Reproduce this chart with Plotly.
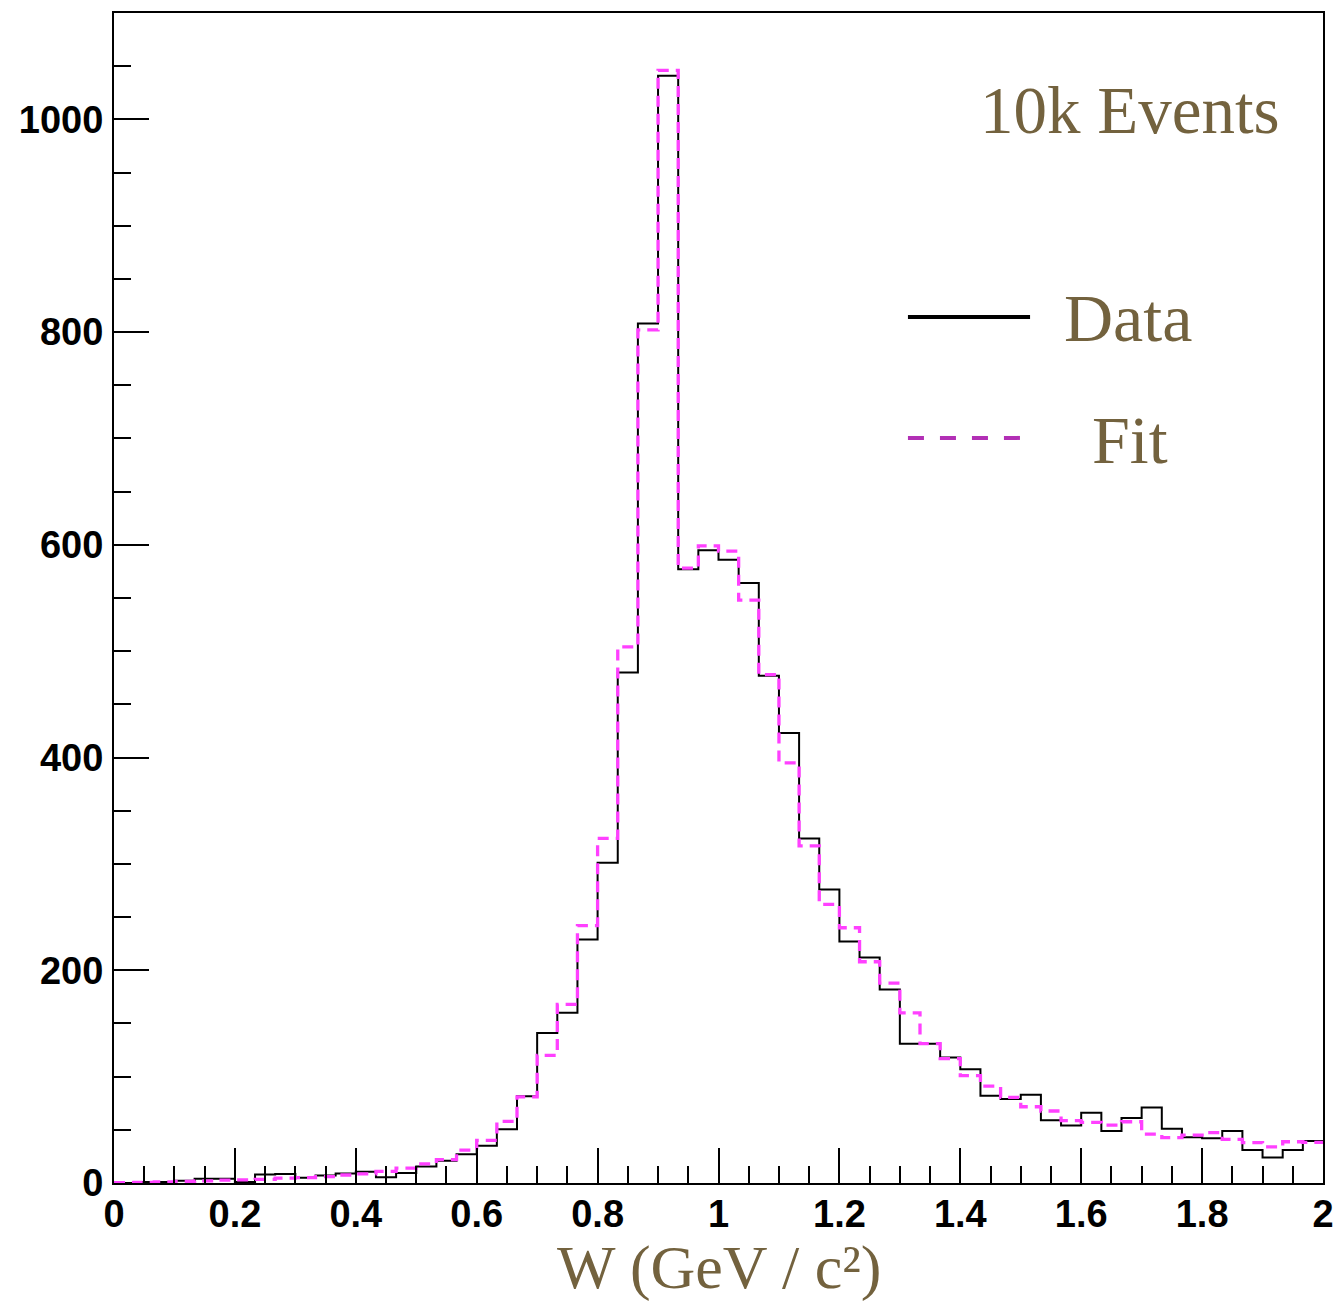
import plotly.graph_objects as go

# 60 bins of width 1/30 from 0 to 2
n_bins = 60
x_min, x_max = 0.0, 2.0
bin_edges = [x_min + i * (x_max - x_min) / n_bins for i in range(n_bins + 1)]

data_counts = [
    0, 1, 1, 2, 4, 4, 1, 8, 8.5, 5,
    7, 9, 10.5, 5.5, 9.5, 15.5, 21, 27, 35, 50.5,
    81.5, 141, 160, 229, 301, 480, 808, 1041, 577, 595,
    586, 564, 477, 423, 324, 276, 227, 212, 182, 131,
    131, 118, 107, 82, 79, 83, 59, 54, 66, 49,
    61, 71, 51, 43, 42, 49, 31, 24, 31, 39.5,
]

fit_counts = [
    0.3, 0.6, 1, 1.5, 2, 2.7, 3, 3.5, 4.5, 5,
    6, 7.5, 8.5, 11, 14, 18, 22, 31, 40, 58,
    81, 120, 168, 242, 324, 504, 802, 1046, 578, 599,
    594, 548, 478, 395, 317, 262, 240, 208, 188, 160,
    131, 117, 101, 91, 80.5, 71.7, 67.7, 58.6, 57, 54.5,
    57.6, 46, 42.6, 45, 47.3, 41, 38, 34, 38.8, 38.2,
]

x_ticks = [0, 0.2, 0.4, 0.6, 0.8, 1, 1.2, 1.4, 1.6, 1.8, 2]
x_tick_labels = ["0", "0.2", "0.4", "0.6", "0.8", "1", "1.2", "1.4", "1.6", "1.8", "2"]
y_ticks = [0, 200, 400, 600, 800, 1000]
y_tick_labels = ["0", "200", "400", "600", "800", "1000"]

title_color = "#73623e"
serif = "Liberation Serif"

fig = go.Figure()

fig.add_trace(go.Scatter(
    x=bin_edges, y=data_counts + [data_counts[-1]],
    mode="lines", line=dict(color="black", width=2, shape="hv"),
    name="Data", showlegend=False,
))
fig.add_trace(go.Scatter(
    x=bin_edges, y=fit_counts + [fit_counts[-1]],
    mode="lines", line=dict(color="#ff40ff", width=3.3, shape="hv", dash="11px,7px"),
    name="Fit", showlegend=False,
))

tickfont = dict(family="Liberation Sans", size=38, color="black", weight="bold")

fig.update_layout(
    width=1334, height=1307,
    margin=dict(l=114, r=11, t=13, b=124),
    paper_bgcolor="white", plot_bgcolor="white",
    xaxis=dict(
        range=[x_min, x_max], tickmode="array", tickvals=x_ticks, ticktext=x_tick_labels,
        ticks="inside", ticklen=35, tickwidth=2, tickcolor="black",
        minor=dict(dtick=0.05, tick0=0, ticks="inside", ticklen=17, tickwidth=2, tickcolor="black", showgrid=False),
        showline=True, linecolor="black", linewidth=2, mirror=True, automargin=False,
        showgrid=False, zeroline=False, tickfont=tickfont, ticklabelstandoff=-4,
    ),
    yaxis=dict(
        range=[0, 1100], tickmode="array", tickvals=y_ticks, ticktext=y_tick_labels,
        ticks="inside", ticklen=35, tickwidth=2, tickcolor="black",
        minor=dict(dtick=50, tick0=0, ticks="inside", ticklen=17, tickwidth=2, tickcolor="black", showgrid=False),
        showline=True, linecolor="black", linewidth=2, mirror=True, automargin=False,
        showgrid=False, zeroline=False, tickfont=tickfont, ticklabelstandoff=1,
    ),
)

# Legend (drawn manually)
fig.add_shape(type="line", xref="paper", yref="paper", x0=0.6567, x1=0.7577, y0=0.7402, y1=0.7402,
              line=dict(color="black", width=4))
fig.add_shape(type="line", xref="paper", yref="paper", x0=0.6567, x1=0.7494, y0=0.6368, y1=0.6368,
              line=dict(color="#b22fb5", width=4, dash="16px,16px"))

fig.add_annotation(text="Data", xref="paper", yref="paper", x=0.7841, y=0.7393, xanchor="left", yanchor="middle",
                   showarrow=False, font=dict(family=serif, size=68, color=title_color))
fig.add_annotation(text="Fit", xref="paper", yref="paper", x=0.8073, y=0.635, xanchor="left", yanchor="middle",
                   showarrow=False, font=dict(family=serif, size=68, color=title_color))
fig.add_annotation(text="10k Events", xref="paper", yref="paper", x=0.966, y=0.917, xanchor="right", yanchor="middle",
                   showarrow=False, font=dict(family=serif, size=67, color=title_color))
fig.add_annotation(text="W (GeV / c²)", xref="paper", yref="paper", x=0.5, y=-0.072,
                   xanchor="center", yanchor="middle",
                   showarrow=False, font=dict(family=serif, size=62, color=title_color))

fig.write_html("out.html")
